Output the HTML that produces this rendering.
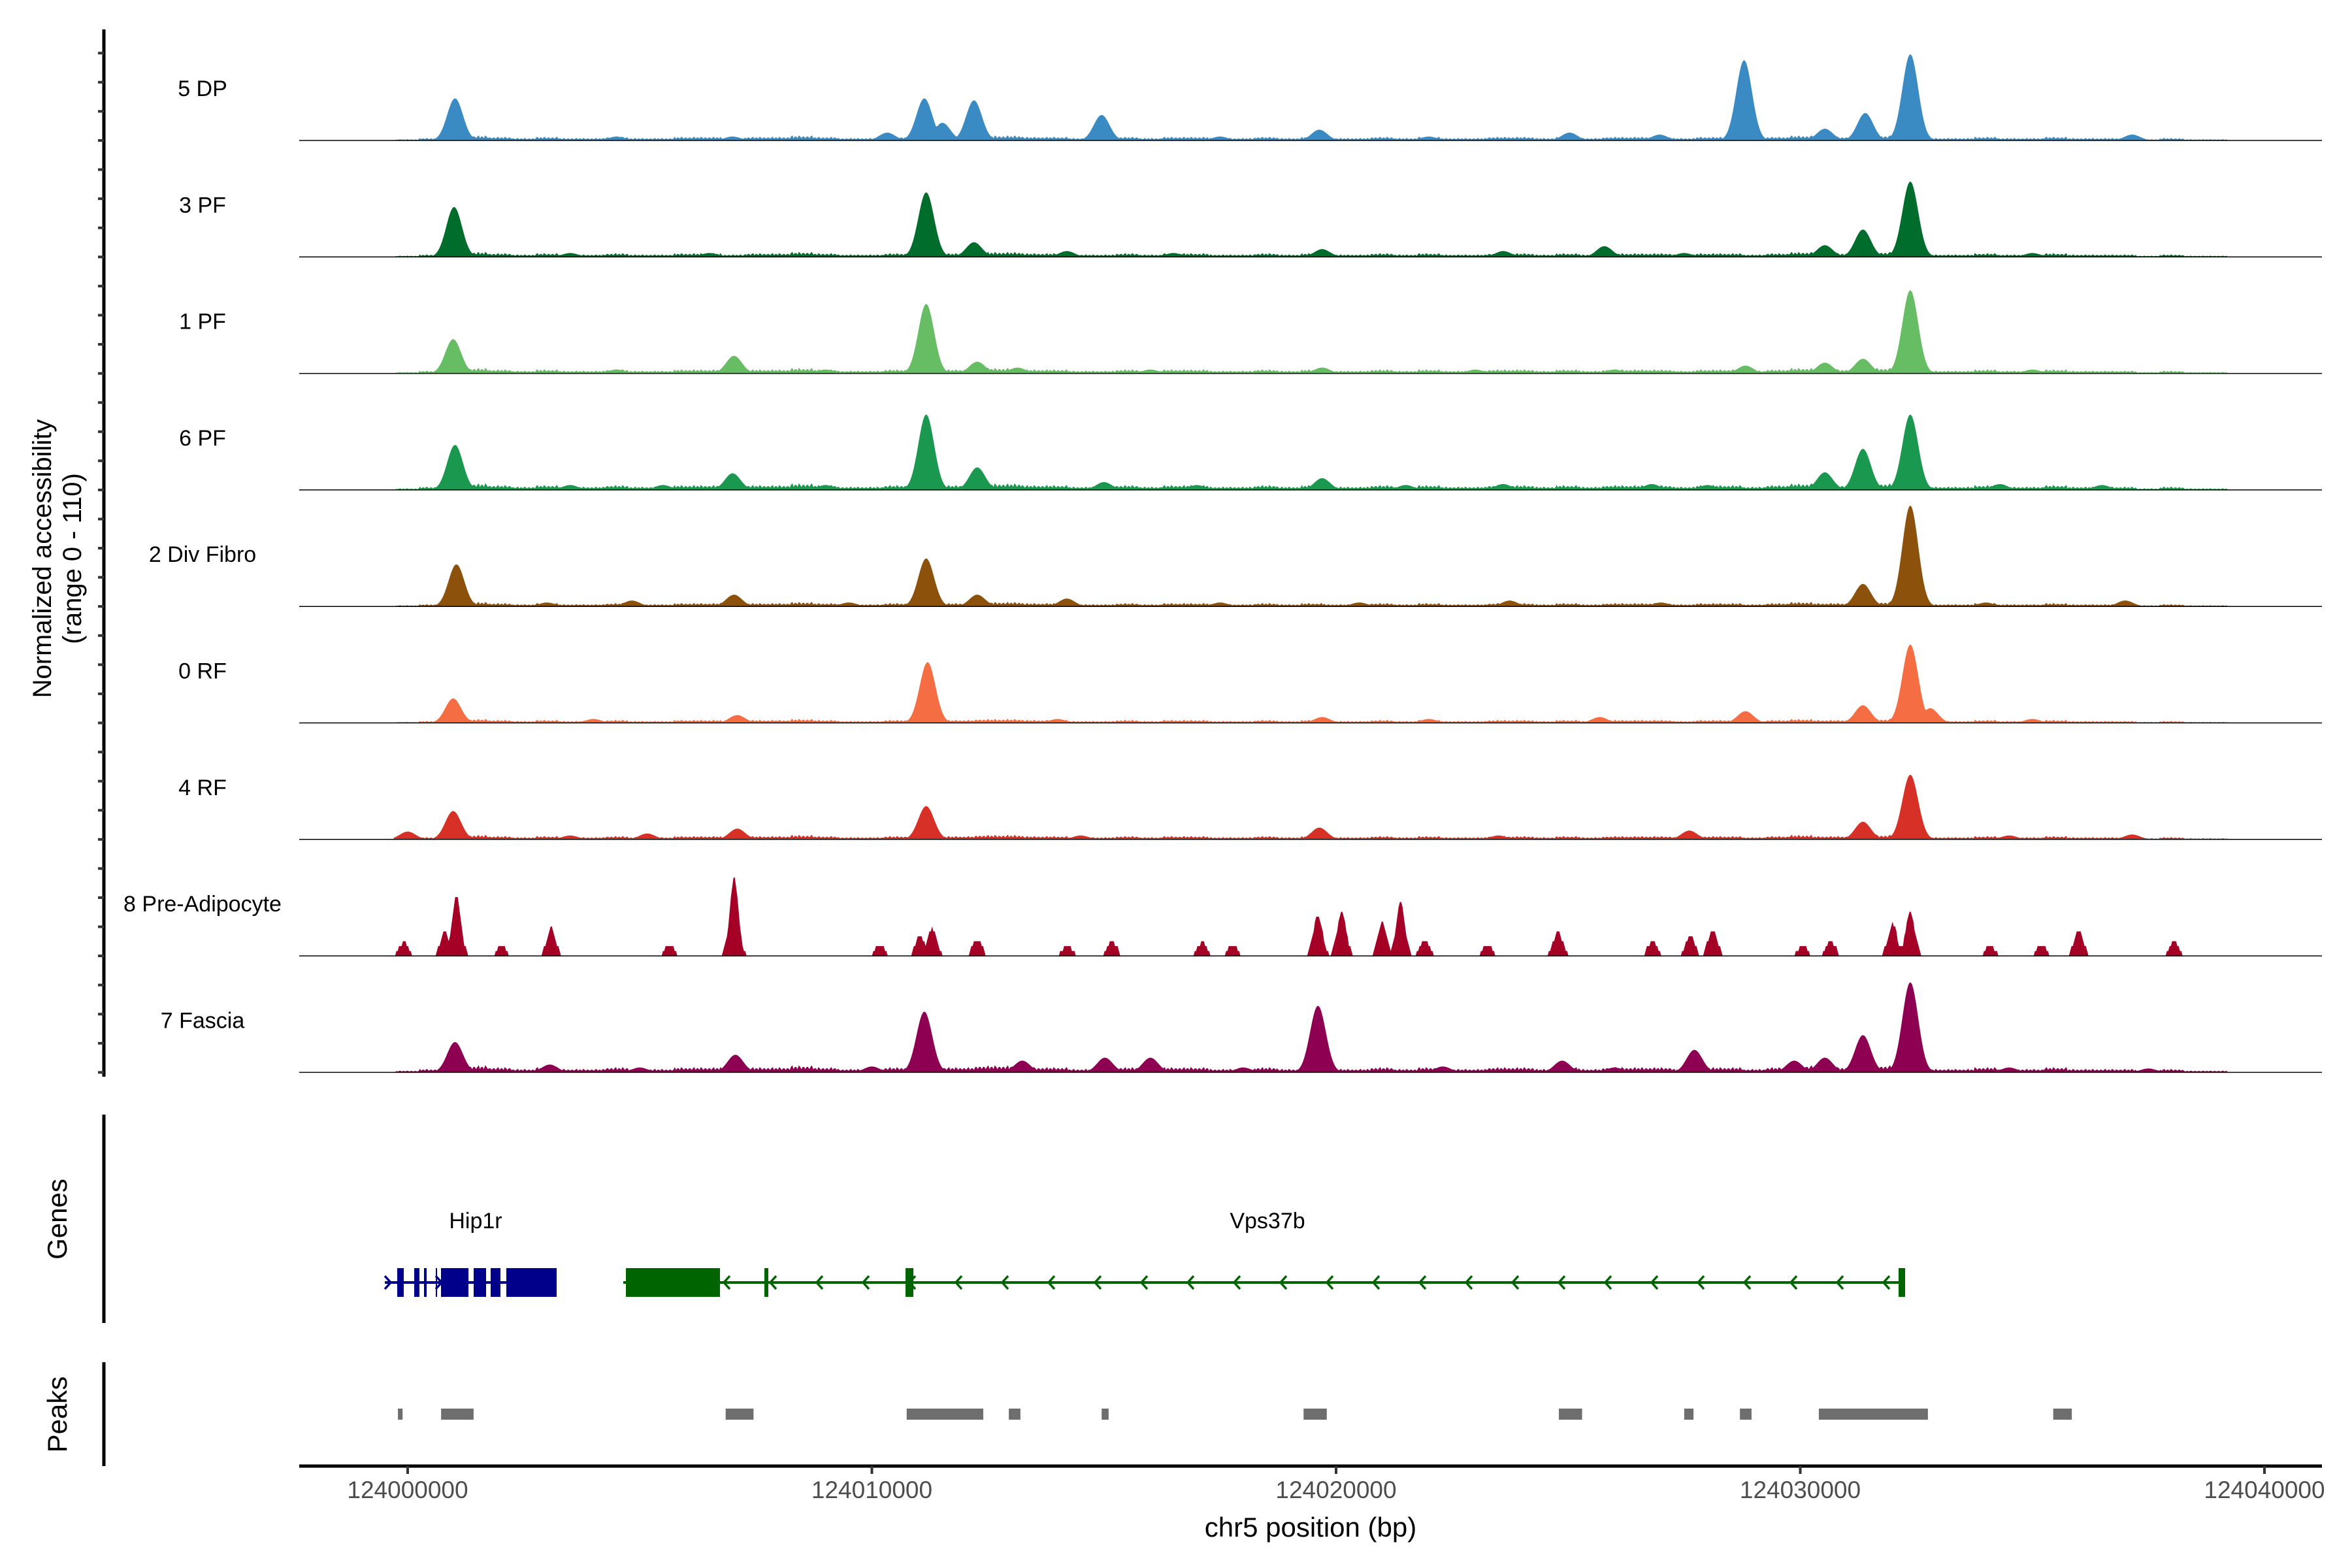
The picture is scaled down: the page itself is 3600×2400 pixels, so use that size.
<!DOCTYPE html>
<html><head><meta charset="utf-8"><style>
html,body{margin:0;padding:0;background:#fff;}
svg{display:block;font-family:"Liberation Sans",sans-serif;}
</style></head><body>
<svg id="chart" width="3600" height="2400" viewBox="0 0 3600 2400" xmlns="http://www.w3.org/2000/svg">
<g id="tracks"></g>
<g id="yaxis">
<line x1="159" y1="45" x2="159" y2="1648" stroke="#000" stroke-width="5"/>
</g>
<text transform="translate(78,855) rotate(-90)" text-anchor="middle" font-size="40">Normalized accessibility</text>
<text transform="translate(124,855) rotate(-90)" text-anchor="middle" font-size="40">(range 0 - 110)</text>
<line x1="159" y1="1706" x2="159" y2="2025" stroke="#000" stroke-width="5"/>
<text transform="translate(102,1866) rotate(-90)" text-anchor="middle" font-size="42">Genes</text>
<line x1="159" y1="2085" x2="159" y2="2244" stroke="#000" stroke-width="5"/>
<text transform="translate(102,2165) rotate(-90)" text-anchor="middle" font-size="42">Peaks</text>
<g id="genes"></g>
<g id="peaks"></g>
<g id="xaxis">
<line x1="458" y1="2244" x2="3554" y2="2244" stroke="#000" stroke-width="5"/>
</g>
<text x="2006" y="2352" text-anchor="middle" font-size="42">chr5 position (bp)</text>
</svg>
<script>
// data: [kb offset from 124000000, value (0-110)]
const trackNames = ["5 DP","3 PF","1 PF","6 PF","2 Div Fibro","0 RF","4 RF","8 Pre-Adipocyte","7 Fascia"];
const trackColors = ["#3a8ac4","#006d2c","#66bd63","#1a9850","#8c510a","#f46d43","#d73027","#a50026","#8e0152"];
const peaks5DP = [[1.02,43],[11.13,43],[12.2,41],[14.95,26],[28.79,82],[31.4,28],[32.37,88],[30.53,12],[19.64,11],[25.03,8],[37.15,6],[11.52,18],[10.33,8],[26.97,6],[4.5,4],[7.0,4],[17.5,4],[22.0,4]];
const peaks3PF = [[1.0,51],[11.17,66],[12.2,15],[31.35,28],[32.37,77],[30.53,12],[25.78,11],[19.7,8],[23.6,6],[14.2,6],[3.5,4],[6.5,4],[16.5,4],[27.5,4],[35.0,4]];
const peaks1PF = [[0.98,35],[11.17,71],[7.03,18],[12.27,12],[32.37,85],[31.35,15],[30.53,11],[28.82,8],[13.14,6],[19.7,6],[4.5,4],[9.0,4],[16.0,4],[23.0,4],[26.0,4],[35.0,4]];
const peaks6PF = [[1.02,46],[7.0,17],[11.17,77],[12.27,23],[31.35,42],[32.37,77],[30.53,18],[19.7,12],[15.0,8],[23.6,6],[26.8,6],[34.3,6],[3.5,5],[5.5,5],[9.0,5],[17.0,5],[21.5,5],[28.0,5],[36.5,5]];
const peaks2DF = [[1.05,43],[11.17,49],[7.03,12],[12.27,12],[31.35,23],[32.37,103],[23.74,6],[14.2,8],[4.83,6],[37.0,6],[3.0,4],[9.5,4],[17.5,4],[20.5,4],[27.0,4],[34.0,4]];
const peaks0RF = [[0.98,25],[11.2,62],[32.37,80],[31.35,18],[28.82,12],[32.8,15],[19.7,6],[25.68,6],[7.1,8],[4.0,4],[14.0,4],[22.0,4],[35.0,4]];
const peaks4RF = [[0.98,29],[11.17,34],[31.35,18],[32.37,66],[19.64,12],[27.61,9],[7.1,11],[0.0,8],[5.16,6],[37.15,5],[3.5,4],[14.5,4],[23.5,4],[34.5,4]];
const peaksPA = [[1.05,58],[0.8,22],[3.09,26],[7.03,77],[11.3,26],[11.04,18],[12.27,15],[19.61,40],[20.12,43],[21.0,31],[21.39,51],[21.91,15],[24.78,23],[28.11,25],[27.63,18],[31.99,31],[32.37,43],[36.0,23],[35.2,9],[38.06,12],[30.66,12],[15.18,12],[14.21,9],[17.12,11],[17.76,9],[26.81,12],[-0.08,11],[2.02,8],[5.64,8],[10.17,9],[23.26,8],[30.05,8],[34.09,8]];
const peaksFas = [[1.02,31],[7.06,18],[11.13,62],[19.61,68],[15.02,15],[16.0,15],[27.72,23],[24.87,12],[31.35,38],[32.37,92],[30.53,15],[13.24,12],[10.0,6],[3.06,8],[29.87,12],[22.3,6],[5.0,5],[18.0,5],[26.0,5],[34.5,5],[37.5,4]];
const allPeaks = [peaks5DP,peaks3PF,peaks1PF,peaks6PF,peaks2DF,peaks0RF,peaks4RF,peaksPA,peaksFas];
// background signal floor, per 0.5 kb bin from -0.5 kb to 39.5 kb
const bgLevel = [0,1,2,3,4,3,2,3,2,2,3,2,2,3,3,2,3,3,4,3,2,2,3,2,3,3,4,4,3,3,2,2,3,2,3,3,2,2,3,2,3,2,2,3,2,3,2,2,3,3,2,3,2,3,3,3,2,3,3,2,3,4,3,3,4,4,3,2,2,3,2,2,3,2,2,2,1,2,1,1,0];
const bgScale = [1.0,1.0,1.1,1.3,0.9,0.8,0.9,0,1.4];
const xTicks = [124000000,124010000,124020000,124030000,124040000];
const peakRegions = [[-0.21,-0.11],[0.72,1.42],[6.85,7.45],[10.75,12.4],[12.95,13.2],[14.95,15.1],[19.3,19.8],[24.8,25.3],[27.5,27.7],[28.7,28.95],[30.4,32.75],[35.45,35.85]];
const geneNames = ["Hip1r","Vps37b"];

const NS='http://www.w3.org/2000/svg';
const X0=624, PXKB=71.05;
function xs(kb){return X0+kb*PXKB;}
function mk(tag,attrs,parent){const e=document.createElementNS(NS,tag);for(const k in attrs)e.setAttribute(k,attrs[k]);parent.appendChild(e);return e;}
const VMAX=110, HMAX=165, BASE0=215, STEP=178.3;
function ys(v,base){return base - v/VMAX*HMAX;}

const tg=document.getElementById('tracks');
allPeaks.forEach((pk,i)=>{
  const base=BASE0+i*STEP;
  const g=mk('g',{},tg);
  
  
  const sig = i===7?0.09:0.17;
  let d='M'+xs(-0.3)+' '+base;
  let k=0;
  for(let px=xs(-0.3);px<=xs(39.2);px+=2,k++){
    const kb=(px-X0)/PXKB; let v=0;
    pk.forEach(p=>{const z=(kb-p[0])/sig; if(Math.abs(z)<4){v=Math.max(v,p[1]*Math.exp(-0.5*z*z));}});
    const bi=Math.max(0,Math.min(bgLevel.length-1,Math.round((kb+0.5)*2)));
    const bg=bgLevel[bi]*bgScale[i]*(k%3===0?0.6:(k%5===0?1.3:1));
    v=Math.max(v,bg);
    if(i===7){v = v>2? Math.ceil(v/5)*5 : 0;}
    d+=' L'+px.toFixed(1)+' '+ys(v,base).toFixed(1);
  }
  d+=' L'+xs(39.2)+' '+base+' Z';
  const a=mk('path',{d:d,fill:trackColors[i]},g);
  
  
  const l=mk('line',{x1:458,y1:base,x2:3554,y2:base,stroke:'#000','stroke-width':1.5},g);
  
  
  const t=mk('text',{x:310,y:base-68,'text-anchor':'middle','font-size':34},g);
  t.textContent=trackNames[i];
  
  
});
const ya=document.getElementById('yaxis');
for(let y=BASE0-3*STEP/4;y<=1643;y+=STEP/4){
  const tk=mk('line',{x1:150,y1:y,x2:159,y2:y,stroke:'#333','stroke-width':4},ya);
  
  
}
const xa=document.getElementById('xaxis');
xTicks.forEach(v=>{
  const x=xs((v-124000000)/1000);
  const tk=mk('line',{x1:x,y1:2244,x2:x,y2:2256,stroke:'#333','stroke-width':4},xa);
  
  
  const t=mk('text',{x:x,y:2293,'text-anchor':'middle','font-size':37,fill:'#4d4d4d'},xa);
  t.textContent=String(v);
  
  
});
const gg=document.getElementById('genes');
const GY=1963;
function gene(name,color,x1,x2,exons,arrows,dir,lx){
  const g=mk('g',{},gg);
  
  
  mk('line',{x1:x1,y1:GY,x2:x2,y2:GY,stroke:color,'stroke-width':4},g);
  exons.forEach(e=>mk('rect',{x:e[0],y:GY-22,width:e[1]-e[0],height:44,fill:color},g));
  arrows.forEach(ax=>{const s=dir*9;mk('path',{d:`M${ax-s} ${GY-10} L${ax} ${GY} L${ax-s} ${GY+10}`,stroke:color,'stroke-width':3.5,fill:'none'},g);});
  const t=mk('text',{x:lx,y:1880,'text-anchor':'middle','font-size':34},g);
  t.textContent=name;
  
  
}
gene(geneNames[0],'#00008b',589,852,[[608,618],[634,642],[649,653],[667,669],[675,717],[725,744],[751,766],[775,852]],[598,676],1,728);
const arr=[];for(let x=1108;x<2895;x+=71)arr.push(x);
gene(geneNames[1],'#006400',954,2912,[[958,1102],[1170,1176],[1386,1398],[2906,2916]],arr,-1,1940);
const pg=document.getElementById('peaks');
peakRegions.forEach(r=>{
  const x1=xs(r[0]),x2=xs(r[1]);
  const rc=mk('rect',{x:x1,y:2156,width:Math.max(7,x2-x1),height:17,fill:'#6e6e6e'},pg);
  
  
});
</script>
</body></html>
